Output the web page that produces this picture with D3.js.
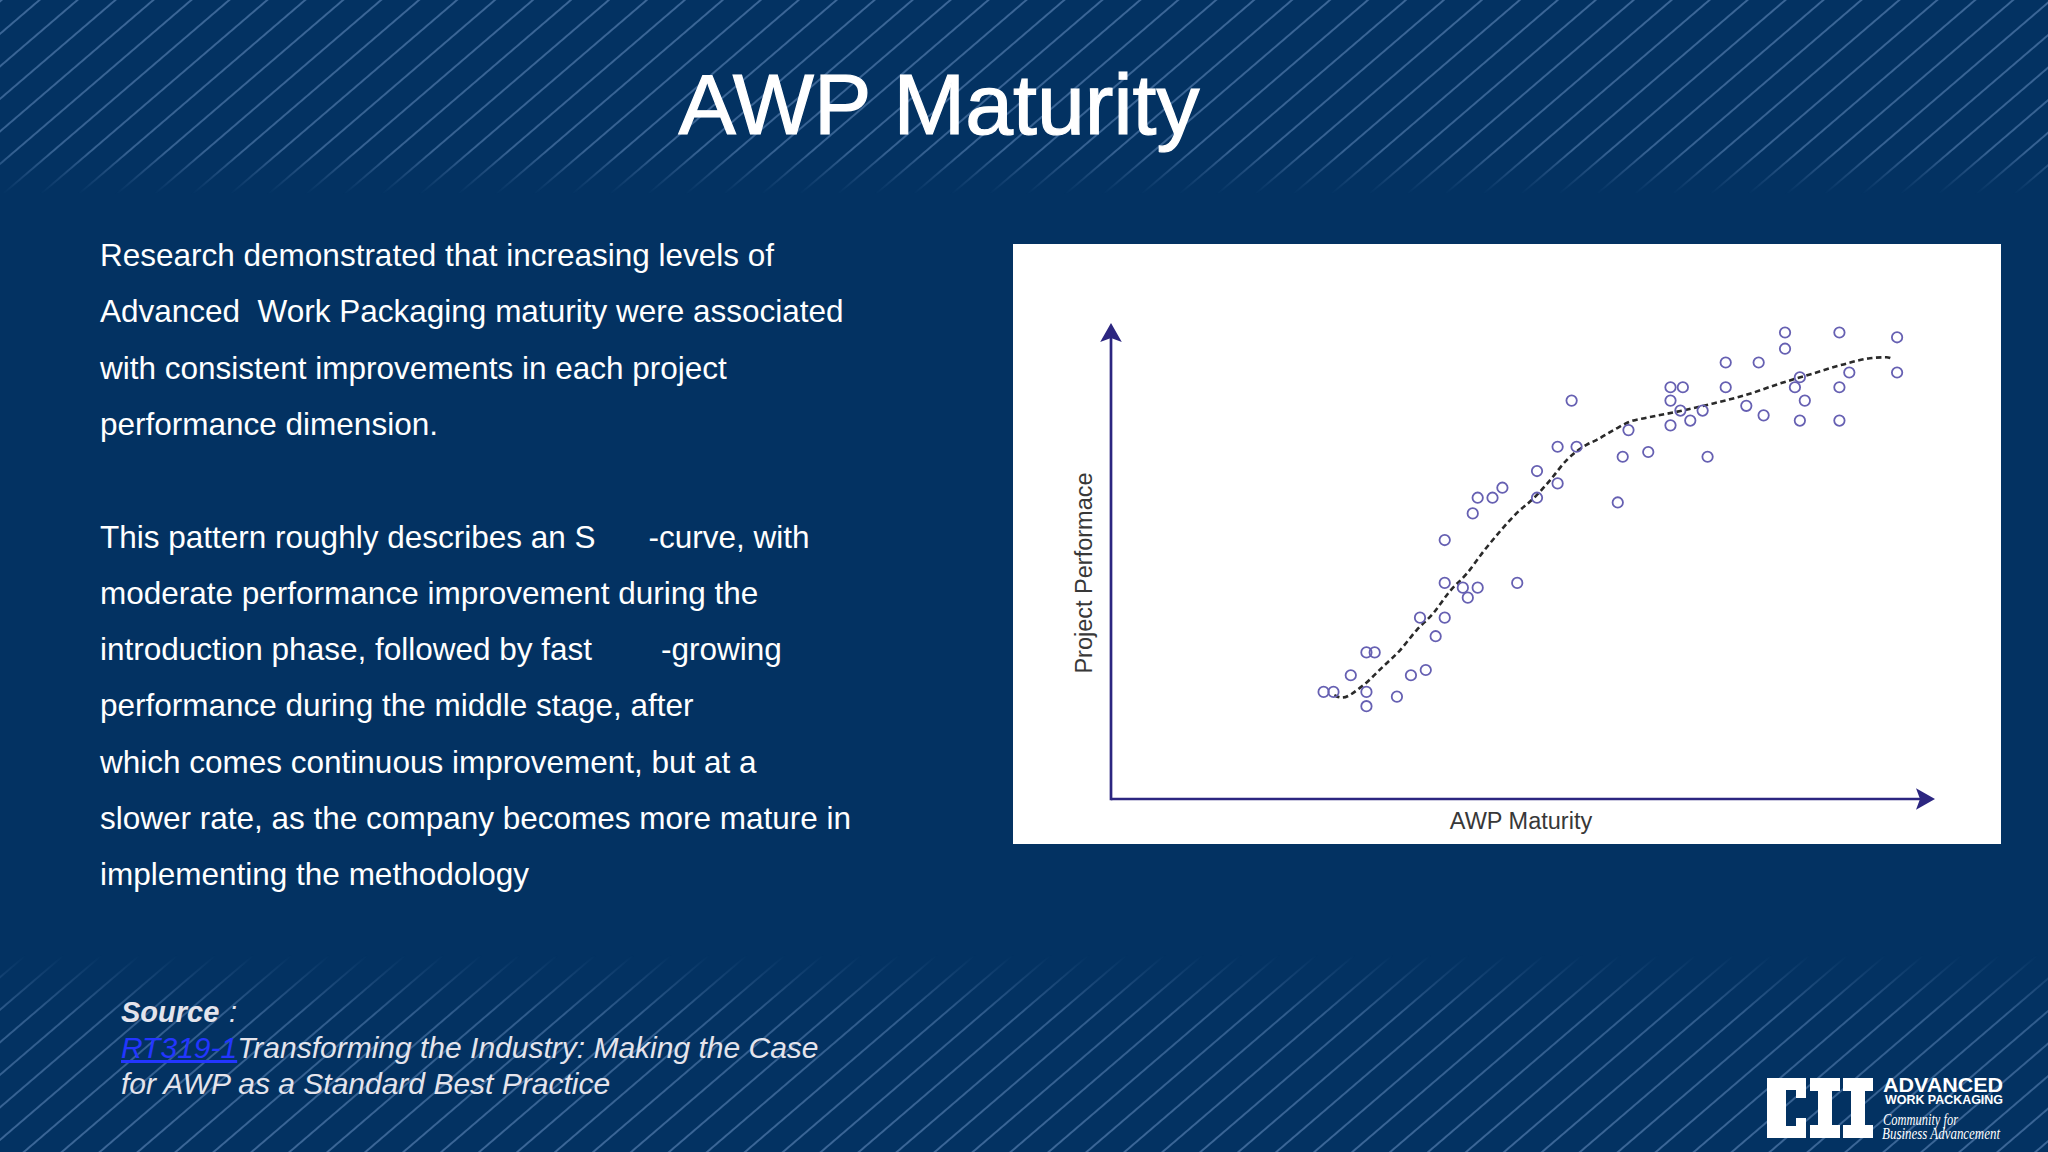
<!DOCTYPE html>
<html>
<head>
<meta charset="utf-8">
<title>AWP Maturity</title>
<script src="https://cdnjs.cloudflare.com/ajax/libs/d3/7.8.5/d3.min.js"></script>
<style>
  body { margin: 0; background: #033262; }
  svg { display: block; }
</style>
</head>
<body>
<div id="svg-area"></div>
<script>
// scatter points, both axes on a 0-100 scale
var maturity = [25.8, 27.0, 29.1, 31.0, 32.0, 31.0, 31.0, 34.7, 36.4, 38.2,
  37.5, 39.4, 40.5, 40.5, 40.5, 42.7, 43.3, 44.5, 43.9, 44.5,
  46.3, 47.5, 49.3, 51.7, 51.7, 54.2, 54.2, 55.9, 56.5, 61.5,
  62.1, 62.8, 65.2, 67.9, 69.4, 67.9, 67.9, 69.1, 70.3, 71.8,
  72.4, 74.6, 74.6, 77.1, 78.6, 79.2, 81.8, 81.8, 83.0, 83.6,
  84.2, 83.6, 88.4, 88.4, 88.4, 89.6, 95.4, 95.4]
var performance = [22.5, 22.5, 26.0, 30.8, 30.8, 22.5, 19.5, 21.5, 26.0, 27.1,
  38.1, 34.2, 38.1, 45.4, 54.4, 44.4, 42.3, 44.4, 60.0, 63.3,
  63.3, 65.4, 45.4, 68.9, 63.3, 74.0, 66.3, 83.7, 74.0, 62.3,
  71.9, 77.5, 72.9, 86.5, 86.5, 83.7, 78.5, 81.6, 79.5, 81.6,
  71.9, 91.7, 86.5, 82.6, 91.7, 80.6, 98.0, 94.6, 86.5, 88.6,
  83.7, 79.5, 98.0, 86.5, 79.5, 89.6, 97.0, 89.6]

// dashed s-curve trend
var trendX = [27.1, 28.0, 30.4, 33.0, 35.1, 37.1, 39.1, 41.1, 43.2, 45.2, 47.2, 49.2, 51.3, 53.3, 55.3,
  57.7, 58.9, 61.0, 63.0, 65.0, 69.1, 73.1, 77.1, 81.2, 85.2, 89.3, 92.1, 94.1, 94.9]
var trendY = [21.8, 21.3, 23.6, 27.8, 31.3, 35.5, 39.0, 43.6, 47.4, 52.0, 56.2, 60.0, 63.2, 67.0, 71.2,
  74.4, 75.4, 77.5, 79.3, 80.1, 81.5, 83.1, 84.9, 87.3, 89.4, 91.5, 92.6, 92.8, 92.4]

var title = "AWP Maturity"
var xLabel = "AWP Maturity"
var yLabel = "Project Performace"

var bodyLines = [
  "Research demonstrated that increasing levels of",
  "Advanced  Work Packaging maturity were associated",
  "with consistent improvements in each project",
  "performance dimension.",
  "",
  ["This pattern roughly describes an S", "-curve, with"],
  "moderate performance improvement during the",
  ["introduction phase, followed by fast", "-growing"],
  "performance during the middle stage, after",
  "which comes continuous improvement, but at a",
  "slower rate, as the company becomes more mature in",
  "implementing the methodology"
]

var W = 2048, H = 1152
var font = "'Liberation Sans', Arial, Helvetica, sans-serif"

var svg = d3.select("#svg-area")
  .append("svg")
  .attr("width", W)
  .attr("height", H)
  .style("font-family", font);

var defs = svg.append("defs");

// diagonal pinstripes for the top and bottom bands
var pat = defs.append("pattern")
  .attr("id", "stripes")
  .attr("patternUnits", "userSpaceOnUse")
  .attr("width", 24.7)
  .attr("height", 24.7)
  .attr("patternTransform", "rotate(49.4)");
pat.append("line")
  .attr("x1", 1).attr("y1", 0).attr("x2", 1).attr("y2", 24.7)
  .attr("stroke", "#5a84b4")
  .attr("stroke-width", 1.7)
  .attr("stroke-opacity", 0.75);

var gTop = defs.append("linearGradient").attr("id", "fadeTop")
  .attr("x1", 0).attr("y1", 0).attr("x2", 0).attr("y2", 1);
gTop.append("stop").attr("offset", "0%").attr("stop-color", "#fff").attr("stop-opacity", 1);
gTop.append("stop").attr("offset", "78%").attr("stop-color", "#fff").attr("stop-opacity", 0.9);
gTop.append("stop").attr("offset", "100%").attr("stop-color", "#fff").attr("stop-opacity", 0);
defs.append("mask").attr("id", "maskTop")
  .append("rect").attr("x", 0).attr("y", 0).attr("width", W).attr("height", 194)
  .attr("fill", "url(#fadeTop)");

var gBot = defs.append("linearGradient").attr("id", "fadeBot")
  .attr("x1", 0).attr("y1", 0).attr("x2", 0).attr("y2", 1);
gBot.append("stop").attr("offset", "0%").attr("stop-color", "#fff").attr("stop-opacity", 0);
gBot.append("stop").attr("offset", "30%").attr("stop-color", "#fff").attr("stop-opacity", 0.8);
gBot.append("stop").attr("offset", "100%").attr("stop-color", "#fff").attr("stop-opacity", 1);
defs.append("mask").attr("id", "maskBot")
  .append("rect").attr("x", 0).attr("y", 955).attr("width", W).attr("height", 197)
  .attr("fill", "url(#fadeBot)");

// background
svg.append("rect").attr("width", W).attr("height", H).attr("fill", "#033262");
svg.append("rect").attr("x", 0).attr("y", 0).attr("width", W).attr("height", 194)
  .attr("fill", "url(#stripes)").attr("mask", "url(#maskTop)");
svg.append("rect").attr("x", 0).attr("y", 955).attr("width", W).attr("height", 197)
  .attr("fill", "url(#stripes)").attr("mask", "url(#maskBot)");

// title
svg.append("text")
  .attr("x", 939)
  .attr("y", 134)
  .attr("text-anchor", "middle")
  .attr("fill", "#ffffff")
  .attr("stroke", "#ffffff")
  .attr("stroke-width", 1.2)
  .attr("font-size", 86)
  .text(title);

// body text
var body = svg.append("text")
  .attr("fill", "#ffffff")
  .attr("font-size", 31.5)
  .style("white-space", "pre");

bodyLines.forEach(function (line, i) {
  if (line === "") return;
  var t = body.append("tspan")
    .attr("x", 100)
    .attr("y", 266 + i * 56.3);
  if (Array.isArray(line)) {
    t.text(line[0]);
    body.append("tspan").attr("dx", i === 5 ? 53 : 69).text(line[1]);
  } else {
    t.text(line);
  }
});

// source block
svg.append("text")
  .attr("x", 121).attr("y", 1022)
  .attr("fill", "#e4e4ec")
  .attr("font-size", 29)
  .attr("font-style", "italic")
  .attr("font-weight", "bold")
  .text("Source");
svg.append("text")
  .attr("x", 229).attr("y", 1022)
  .attr("fill", "#e4e4ec")
  .attr("font-size", 29)
  .attr("font-style", "italic")
  .text(":");

var src = svg.append("text")
  .attr("x", 121).attr("y", 1058)
  .attr("font-size", 30)
  .attr("font-style", "italic");
src.append("tspan")
  .attr("fill", "#2336ff")
  .attr("text-decoration", "underline")
  .text("RT319-1");
src.append("tspan")
  .attr("fill", "#e4e4ec")
  .text("Transforming the Industry: Making the Case");

svg.append("text")
  .attr("x", 121).attr("y", 1094)
  .attr("font-size", 30)
  .attr("font-style", "italic")
  .attr("fill", "#e4e4ec")
  .text("for AWP as a Standard Best Practice");

// white panel holding the chart
svg.append("rect")
  .attr("x", 1013).attr("y", 244)
  .attr("width", 988).attr("height", 600)
  .attr("fill", "#ffffff");

var x = d3.scaleLinear().domain([0, 100]).range([1111, 1935]);
var y = d3.scaleLinear().domain([0, 100]).range([799, 323]);

var axisColor = "#2c2680";

// axes with arrow heads
svg.append("line")
  .attr("x1", x(0)).attr("y1", y(0))
  .attr("x2", x(100) - 10).attr("y2", y(0))
  .attr("stroke", axisColor).attr("stroke-width", 2.7);
svg.append("line")
  .attr("x1", x(0)).attr("y1", y(0) + 1.3)
  .attr("x2", x(0)).attr("y2", y(100) + 10)
  .attr("stroke", axisColor).attr("stroke-width", 2.7);

var arrow = "M0,0 L-19,-10.8 L-15,0 L-19,10.8 Z";
svg.append("path")
  .attr("d", arrow)
  .attr("transform", "translate(" + x(100) + "," + y(0) + ")")
  .attr("fill", axisColor);
svg.append("path")
  .attr("d", arrow)
  .attr("transform", "translate(" + x(0) + "," + y(100) + ") rotate(-90)")
  .attr("fill", axisColor);

// axis labels
svg.append("text")
  .attr("x", 1521).attr("y", 829)
  .attr("text-anchor", "middle")
  .attr("fill", "#383838")
  .attr("font-size", 23.5)
  .text(xLabel);
svg.append("text")
  .attr("transform", "translate(1092,573) rotate(-90)")
  .attr("text-anchor", "middle")
  .attr("fill", "#383838")
  .attr("font-size", 23.5)
  .text(yLabel);

// trend line
var trend = trendX.map(function (d, i) { return [d, trendY[i]] });
svg.append("path")
  .datum(trend)
  .attr("d", d3.line()
    .x(function (d) { return x(d[0]) })
    .y(function (d) { return y(d[1]) })
    .curve(d3.curveMonotoneX))
  .attr("fill", "none")
  .attr("stroke", "#2a2a2a")
  .attr("stroke-width", 2.6)
  .attr("stroke-dasharray", "5.5,3.5");

// scatter points
var pts = maturity.map(function (d, i) { return [d, performance[i]] });
svg.selectAll(".dot")
  .data(pts)
  .enter()
  .append("circle")
  .attr("class", "dot")
  .attr("cx", function (d) { return x(d[0]) })
  .attr("cy", function (d) { return y(d[1]) })
  .attr("r", 5.2)
  .attr("fill", "none")
  .attr("stroke", "#6660b2")
  .attr("stroke-width", 1.8);

// CII logo, bottom right
var logo = svg.append("g").attr("fill", "#ffffff");
logo.append("path")
  .attr("d", "M1767,1078 H1806 V1098 H1796 V1090 H1786 V1126 H1796 V1118 H1806 V1138 H1767 Z");
logo.append("path")
  .attr("d", "M1810,1078 H1840 V1091 H1832 V1125 H1840 V1138 H1810 V1125 H1818 V1091 H1810 Z");
logo.append("path")
  .attr("d", "M1843,1078 H1873 V1091 H1865 V1125 H1873 V1138 H1843 V1125 H1851 V1091 H1843 Z");

logo.append("text")
  .attr("x", 1883).attr("y", 1092)
  .attr("font-size", 19.5)
  .attr("font-weight", "bold")
  .attr("textLength", 120)
  .attr("lengthAdjust", "spacingAndGlyphs")
  .text("ADVANCED");
logo.append("text")
  .attr("x", 1885).attr("y", 1103.5)
  .attr("font-size", 12.5)
  .attr("font-weight", "bold")
  .attr("textLength", 118)
  .attr("lengthAdjust", "spacingAndGlyphs")
  .text("WORK PACKAGING");
logo.append("text")
  .attr("x", 1883).attr("y", 1125)
  .attr("font-size", 16)
  .attr("font-style", "italic")
  .attr("font-family", "'Liberation Serif', serif")
  .attr("textLength", 75)
  .attr("lengthAdjust", "spacingAndGlyphs")
  .text("Community for");
logo.append("text")
  .attr("x", 1882).attr("y", 1139)
  .attr("font-size", 16)
  .attr("font-style", "italic")
  .attr("font-family", "'Liberation Serif', serif")
  .attr("textLength", 118)
  .attr("lengthAdjust", "spacingAndGlyphs")
  .text("Business Advancement");
</script>
</body>
</html>
